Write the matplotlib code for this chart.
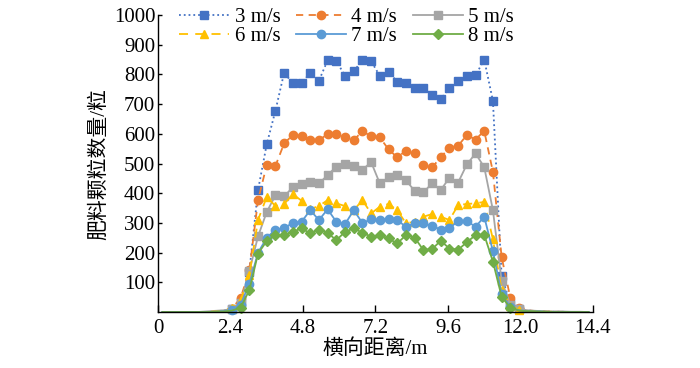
import numpy as np
import matplotlib
matplotlib.use("Agg")
import matplotlib.pyplot as plt
from matplotlib.ticker import FixedLocator, FixedFormatter

plt.rcParams['font.family'] = ['Liberation Serif', 'Noto Sans CJK SC', 'DejaVu Sans']

# 50 bins over 0-14.4 m, values are counts per bin
BIN_WIDTH = 0.288
distance = (np.arange(50) + 0.5) * BIN_WIDTH

labels = ['3 m/s', '4 m/s', '5 m/s', '6 m/s', '7 m/s', '8 m/s']

count_3 = [0, 0, 0, 0, 0, 0, 2, 5, 10, 35, 136, 411, 565, 678,
           806, 770, 770, 806, 779, 848, 846, 795, 811, 848, 845, 795, 809,
           775, 772, 755, 755, 730, 717, 755, 777, 795, 797, 850,
           711, 120, 30, 10, 5, 3, 2, 1, 1, 0, 0, 0]
count_4 = [0, 0, 0, 0, 0, 0, 2, 4, 12, 47, 140, 377, 495, 492,
           568, 596, 593, 581, 579, 599, 599, 588, 579, 609, 592, 588, 548,
           521, 543, 534, 495, 487, 521, 554, 560, 596, 581, 610,
           472, 185, 48, 14, 6, 3, 2, 1, 1, 0, 0, 0]
count_5 = [0, 0, 0, 0, 0, 2, 4, 6, 10, 30, 138, 255, 337, 393,
           390, 420, 430, 438, 433, 461, 490, 497, 493, 479, 505, 433, 454,
           461, 444, 408, 403, 433, 411, 452, 436, 497, 534, 488,
           343, 105, 25, 10, 6, 4, 3, 2, 2, 1, 1, 0]
count_6 = [0, 0, 0, 0, 0, 0, 2, 4, 14, 40, 125, 310, 388, 357,
           364, 397, 375, 347, 357, 377, 366, 357, 343, 377, 332, 355, 364,
           343, 299, 304, 321, 330, 321, 310, 360, 364, 366, 371,
           245, 75, 22, 8, 4, 2, 1, 1, 0, 0, 0, 0]
count_7 = [0, 0, 0, 0, 0, 0, 1, 3, 8, 25, 95, 200, 250, 278,
           282, 301, 304, 343, 310, 346, 304, 296, 343, 300, 312, 310, 315,
           310, 287, 299, 299, 290, 278, 282, 307, 307, 287, 321,
           205, 62, 16, 6, 3, 2, 1, 0, 0, 0, 0, 0]
count_8 = [0, 0, 0, 0, 0, 0, 1, 2, 5, 15, 74, 197, 239, 259,
           259, 270, 282, 265, 278, 267, 242, 270, 282, 267, 254, 259, 248,
           231, 259, 251, 209, 212, 240, 214, 210, 235, 259, 260,
           170, 52, 14, 5, 3, 2, 1, 0, 0, 0, 0, 0]

x_ticks = [0, 2.4, 4.8, 7.2, 9.6, 12.0, 14.4]
x_tick_labels = ['0', '2.4', '4.8', '7.2', '9.6', '12.0', '14.4']
y_ticks = [100, 200, 300, 400, 500, 600, 700, 800, 900, 1000]

styles = [
    dict(color='#4472C4', linestyle=':', marker='s'),
    dict(color='#ED7D31', linestyle=(0, (4, 3)), marker='o'),
    dict(color='#A5A5A5', linestyle='-', marker='s'),
    dict(color='#FFC000', linestyle=(0, (5, 4)), marker='^'),
    dict(color='#5B9BD5', linestyle='-', marker='o'),
    dict(color='#70AD47', linestyle='-', marker='D'),
]


def plot_distribution(output_path):
    fig = plt.figure(figsize=(7.0, 3.68), dpi=100)
    ax = fig.add_axes([0.2257, 0.152, 0.6214, 0.807])

    series = [count_3, count_4, count_5, count_6, count_7, count_8]
    lines = []
    for values, label, st in zip(series, labels, styles):
        values = np.asarray(values)
        # tails lying on the axis show no markers in the source
        shown = [i for i, v in enumerate(values) if v >= 8]
        ms = 4.6 if st['marker'] == 'D' else 6
        line, = ax.plot(distance, values, label=label, linewidth=1.3,
                        markersize=ms, markevery=shown, clip_on=False, **st)
        lines.append(line)

    ax.set_xlim(0, 14.4)
    ax.set_ylim(0, 1000)
    ax.xaxis.set_major_locator(FixedLocator(x_ticks))
    ax.xaxis.set_major_formatter(FixedFormatter(x_tick_labels))
    ax.yaxis.set_major_locator(FixedLocator(y_ticks))
    ax.tick_params(axis='x', direction='in', length=5, width=1, labelsize=15, pad=5)
    ax.tick_params(axis='y', direction='in', length=3, width=1, labelsize=15, pad=2)

    for side in ['top', 'right']:
        ax.spines[side].set_visible(False)
    for side in ['left', 'bottom']:
        ax.spines[side].set_linewidth(1.0)

    ax.set_xlabel('横向距离/m', fontsize=15, labelpad=1)
    ax.set_ylabel('肥料颗粒数量/粒', fontsize=15, labelpad=3)

    # legend fills column by column, reorder so rows read 3-4-5 / 6-7-8
    order = [0, 3, 1, 4, 2, 5]
    fig.legend([lines[i] for i in order], [labels[i] for i in order],
               loc='upper center', bbox_to_anchor=(0.495, 1.02), ncol=3,
               frameon=False, fontsize=15, handlelength=2.4, handletextpad=0.25,
               columnspacing=0.75, labelspacing=0.0, borderpad=0.2)

    fig.savefig(output_path, dpi=100)
    plt.close(fig)


if __name__ == "__main__":
    plot_distribution('out.png')
